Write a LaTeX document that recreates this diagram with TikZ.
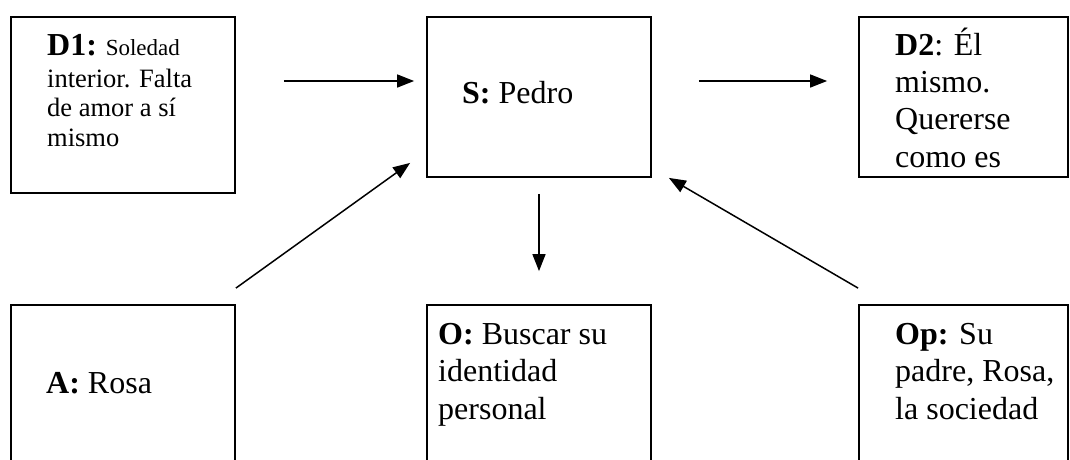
\documentclass[tikz,border=0pt]{standalone}
\usepackage{fontspec}
\setmainfont{Liberation Serif}
\usetikzlibrary{arrows.meta}

\begin{document}
\begin{tikzpicture}[x=1pt, y=-1pt, >={Triangle[length=17pt,width=13pt]},
    caja/.style={draw, line width=1.8pt, inner sep=0pt, minimum width=224pt},
    texto/.style={anchor=base west, inner sep=0pt, align=left},
    flecha/.style={->, line width=1.5pt}]
    \useasboundingbox (0,0) rectangle (1070,459);
    \clip (0,0) rectangle (1070,459);

    % Cajas de arriba
    \node[caja, minimum height=176pt] (D1) at (123,105) {};
    \node[caja, minimum height=160pt] (S) at (539,97) {};
    \node[caja, minimum width=209pt, minimum height=160pt] (D2) at (963.5,97) {};

    % Cajas de abajo (cortadas por el borde)
    \node[caja, minimum height=180pt] (A) at (123,395) {};
    \node[caja, minimum height=180pt] (O) at (539,395) {};
    \node[caja, minimum width=209pt, minimum height=180pt] (Op) at (963.5,395) {};

    % Textos (base = ultima linea)
    \node[texto, font=\fontsize{26.5}{29.5}\selectfont] (tD1) at (47,146)
        {{\fontsize{32}{32}\selectfont\bfseries D1:} {\fontsize{23}{23}\selectfont Soledad}\\[2pt]
         interior. Falta\\ de amor a sí\\ mismo};
    \node[texto, font=\fontsize{32}{37}\selectfont] (tS) at (462,103) {\textbf{S:} Pedro};
    \node[texto, font=\fontsize{32}{37.3}\selectfont] (tD2) at (895,167)
        {\textbf{D2}: Él\\ mismo.\\ Quererse\\ como es};
    \node[texto, font=\fontsize{32}{37.5}\selectfont] (tA) at (46,393) {\textbf{A:} Rosa};
    \node[texto, font=\fontsize{32}{37.5}\selectfont] (tO) at (438,419)
        {\textbf{O:} Buscar su\\ identidad\\ personal};
    \node[texto, font=\fontsize{32}{37.5}\selectfont] (tOp) at (895,419)
        {\textbf{Op:} Su\\ padre, Rosa,\\ la sociedad};

    % Flechas
    \draw[flecha, shorten <=48pt, shorten >=12pt] (D1.east |- 0,81) -- (S.west |- 0,81);
    \draw[flecha, shorten <=47pt, shorten >=31pt] (S.east |- 0,81) -- (D2.west |- 0,81);
    \draw[flecha, shorten <=16pt, shorten >=33pt] (S.south) -- (O.north);
    \draw[flecha] ([yshift=16pt]A.north east) -- ([xshift=-16pt,yshift=15pt]S.south west);
    \draw[flecha] ([yshift=16pt]Op.north west) -- ([xshift=17pt]S.south east);
\end{tikzpicture}
\end{document}
